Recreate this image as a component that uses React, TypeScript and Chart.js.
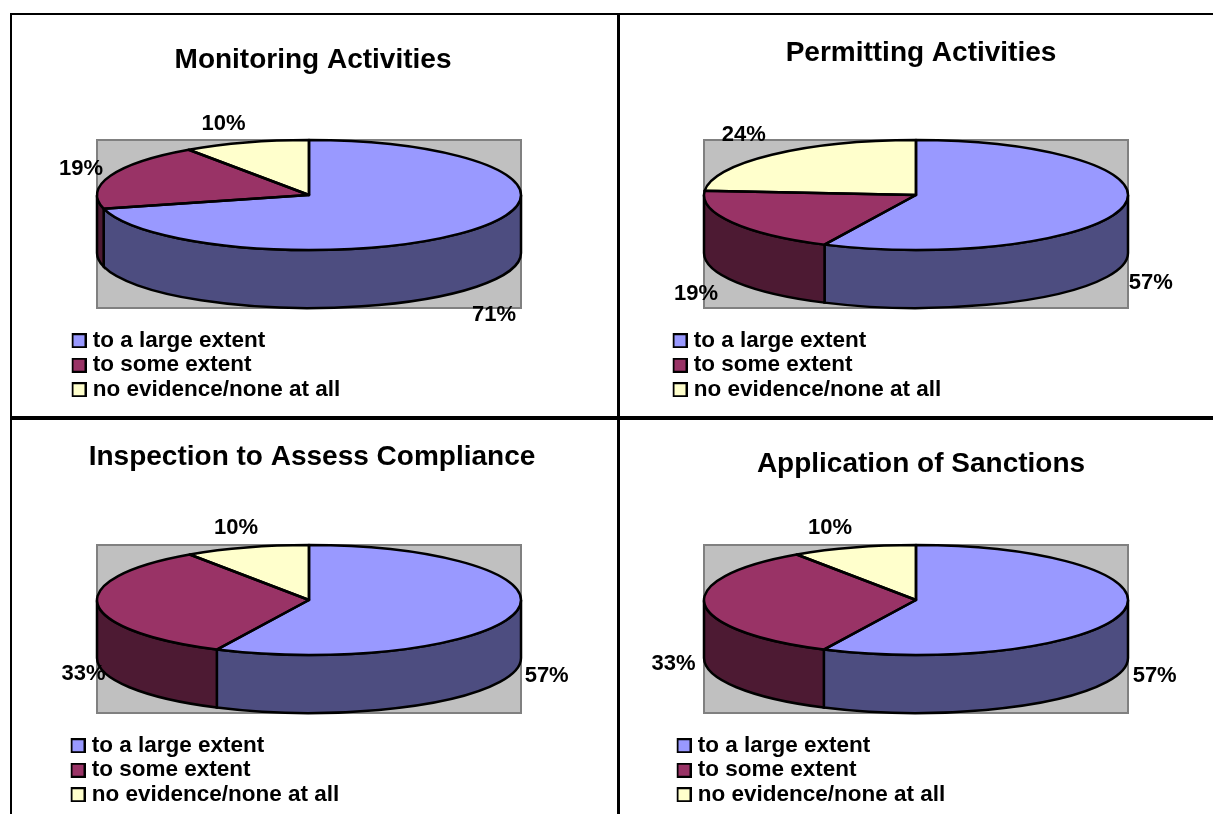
import React, { useEffect, useRef } from "react";
import { Chart, registerables } from "chart.js";

Chart.register(...registerables);

const categories = ["to a large extent", "to some extent", "no evidence/none at all"];
const monitoringValues = [71.0, 19.4, 9.6];
const permittingValues = [57.1, 19.1, 23.8];
const inspectionValues = [57.1, 33.3, 9.5];
const sanctionValues = [57.1, 33.3, 9.5];
const sliceColors = ["#9999FF", "#993366", "#FFFFCC"];
const sideColors = ["#4D4D80", "#4D1A33", "#808066"];
const FONT = '"Liberation Sans", Arial, sans-serif';

type Panel = {
  title: string; values: number[];
  left: number; top: number; width: number; height: number; titleTop: number;
  cx: number; cy: number; legendLeft: number; legendBottom: number;
  nudges: number[][];
};

const panels: Panel[] = [
  { title: "Monitoring Activities", values: monitoringValues, left: 12, top: 15, width: 602, height: 401, titleTop: 28,
    cx: 309, cy: 195, legendLeft: 71.5, legendBottom: 403,
    nudges: [[17.5, 86.5], [-29.5, -6.5], [-22.5, -19]] },
  { title: "Permitting Activities", values: permittingValues, left: 619, top: 15, width: 604, height: 401, titleTop: 21,
    cx: 916, cy: 195, legendLeft: 672.5, legendBottom: 403,
    nudges: [[28, 75.5], [-36.5, 71.5], [-28, -20]] },
  { title: "Inspection to Assess Compliance", values: inspectionValues, left: 12, top: 420, width: 600, height: 394, titleTop: 20,
    cx: 309, cy: 600, legendLeft: 70.5, legendBottom: 808,
    nudges: [[31, 63.5], [-14, 70], [-10.5, -19]] },
  { title: "Application of Sanctions", values: sanctionValues, left: 619, top: 420, width: 604, height: 394, titleTop: 27,
    cx: 916, cy: 600, legendLeft: 676.5, legendBottom: 808,
    nudges: [[32, 63.5], [-31, 60], [-23.5, -19]] },
];

const RX = 212, RY = 55, DEPTH = 58;
const LINE = 2.5;

// Legend swatch: sits at the right end of a wider transparent image so that the
// gap to the legend text is the narrow one of the reference.
function swatch(color: string): HTMLCanvasElement {
  const c = document.createElement("canvas");
  c.width = 18; c.height = 15;
  const g = c.getContext("2d")!;
  g.fillStyle = "#000"; g.fillRect(3, 0, 15, 15);
  g.fillStyle = color; g.fillRect(5, 2, 11, 11);
  return c;
}

function pie3d(p: Panel) {
  const cx = p.cx - p.left, cy = p.cy - p.top;
  const arcs = (chart: any) => chart.getDatasetMeta(0).data as any[];
  return {
    id: "pie3d",
    afterLayout(chart: any) {
      // the legend stays in the lower-left corner of the panel, below the pie
      chart.legend.bottom = p.legendBottom - p.top;
    },
    beforeDatasetsDraw(chart: any) {
      const ctx = chart.ctx as CanvasRenderingContext2D;
      ctx.save();
      ctx.fillStyle = "#C0C0C0"; ctx.strokeStyle = "#808080"; ctx.lineWidth = 2;
      ctx.beginPath();
      ctx.rect(cx - RX, cy - RY, RX * 2, RY * 2 + DEPTH);
      ctx.fill(); ctx.stroke();
      ctx.lineWidth = LINE; ctx.strokeStyle = "#000";
      arcs(chart).forEach((arc, i) => {
        const a = Math.max(arc.startAngle, 0), b = Math.min(arc.endAngle, Math.PI);
        if (b <= a) return;
        ctx.beginPath();
        ctx.ellipse(cx, cy, RX, RY, 0, a, b);
        ctx.lineTo(cx + RX * Math.cos(b), cy + RY * Math.sin(b) + DEPTH);
        ctx.ellipse(cx, cy + DEPTH, RX, RY, 0, b, a, true);
        ctx.closePath();
        ctx.fillStyle = sideColors[i];
        ctx.fill(); ctx.stroke();
      });
      ctx.restore();
      const first = arcs(chart)[0];
      ctx.save();
      ctx.translate(cx, cy);
      ctx.scale(RX / first.outerRadius, RY / first.outerRadius);
      ctx.translate(-first.x, -first.y);
    },
    afterDatasetsDraw(chart: any) {
      const ctx = chart.ctx as CanvasRenderingContext2D;
      ctx.restore();
      ctx.save();
      ctx.lineWidth = LINE; ctx.strokeStyle = "#000"; ctx.lineJoin = "round";
      arcs(chart).forEach((arc) => {
        ctx.beginPath();
        ctx.moveTo(cx, cy);
        ctx.ellipse(cx, cy, RX, RY, 0, arc.startAngle, arc.endAngle);
        ctx.closePath();
        ctx.stroke();
      });
      ctx.fillStyle = "#000";
      ctx.font = `bold 22px ${FONT}`;
      ctx.textAlign = "center"; ctx.textBaseline = "middle";
      arcs(chart).forEach((arc, i) => {
        const mid = (arc.startAngle + arc.endAngle) / 2;
        const [dx, dy] = p.nudges[i];
        ctx.fillText(`${Math.round(p.values[i])}%`, cx + RX * Math.cos(mid) + dx, cy + RY * Math.sin(mid) + dy);
      });
      ctx.restore();
    },
  };
}

function PieCanvas({ panel }: { panel: Panel }) {
  const ref = useRef<HTMLCanvasElement>(null);
  useEffect(() => {
    const swatches = sliceColors.map(swatch);
    const side = panel.legendLeft - panel.left;
    const chart = new Chart(ref.current!, {
      type: "pie",
      data: {
        labels: categories,
        datasets: [{ data: panel.values, backgroundColor: sliceColors, borderWidth: 0, clip: false } as any],
      },
      options: {
        responsive: false,
        animation: false,
        layout: { padding: { left: side, right: side, top: 0, bottom: 0 } },
        plugins: {
          tooltip: { enabled: false },
          title: {
            display: true,
            text: panel.title,
            color: "#000",
            font: { family: FONT, size: 28, weight: "bold" },
            padding: { top: panel.titleTop, bottom: 0 },
          },
          legend: {
            position: "chartArea" as any,
            align: "end",
            labels: {
              color: "#000",
              font: { family: FONT, size: 22.5, weight: "bold" },
              padding: 2,
              usePointStyle: true,
              pointStyleWidth: 8,
              generateLabels: (c: any) =>
                (Chart as any).overrides.doughnut.plugins.legend.labels
                  .generateLabels(c)
                  .map((l: any, i: number) => ({ ...l, pointStyle: swatches[i] })),
            },
          },
        },
      } as any,
      plugins: [pie3d(panel) as any],
    });
    return () => chart.destroy();
  }, [panel]);
  return (
    <canvas
      ref={ref}
      width={panel.width}
      height={panel.height}
      style={{ position: "absolute", left: panel.left, top: panel.top, display: "block" }}
    />
  );
}

const rule = (left: number, top: number, width: number, height: number): React.CSSProperties => ({
  position: "absolute", left, top, width, height, background: "#000",
});

export default function App() {
  return (
    <div style={{ position: "fixed", left: 0, top: 0, width: 1213, height: 814, overflow: "hidden", background: "#fff" }}>
      {panels.map((p) => <PieCanvas key={p.title} panel={p} />)}
      <div style={rule(10, 13, 1203, 2)} />
      <div style={rule(10, 13, 2, 801)} />
      <div style={rule(617, 13, 3, 801)} />
      <div style={rule(10, 416, 1203, 4)} />
    </div>
  );
}
